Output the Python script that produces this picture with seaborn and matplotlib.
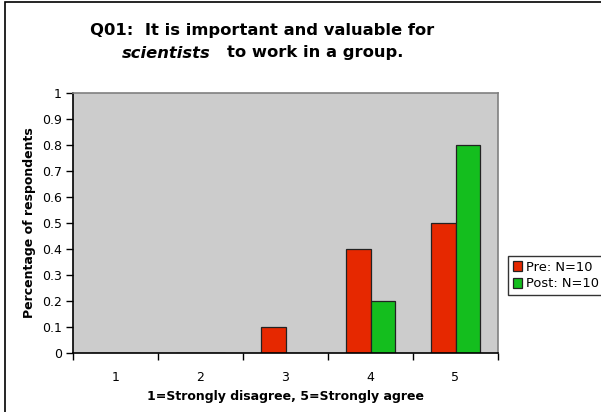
import matplotlib
matplotlib.use("Agg")
import matplotlib.pyplot as plt
import seaborn as sns
import pandas as pd
from matplotlib.patches import Rectangle

categories = ["1", "2", "3", "4", "5"]
pre_values = [0.0, 0.0, 0.1, 0.4, 0.5]
post_values = [0.0, 0.0, 0.0, 0.2, 0.8]
series_names = ["Pre: N=10", "Post: N=10"]
y_ticks = [0, 0.1, 0.2, 0.3, 0.4, 0.5, 0.6, 0.7, 0.8, 0.9, 1]
y_tick_labels = ["0", "0.1", "0.2", "0.3", "0.4", "0.5", "0.6", "0.7", "0.8", "0.9", "1"]

df = pd.DataFrame({
    "cat": categories * 2,
    "val": pre_values + post_values,
    "series": [series_names[0]] * 5 + [series_names[1]] * 5,
})

sns.set_style("white")
plt.rcParams["font.family"] = ["DejaVu Sans"]
plt.rcParams["text.color"] = "black"
plt.rcParams["axes.labelcolor"] = "black"
plt.rcParams["xtick.color"] = "black"
plt.rcParams["ytick.color"] = "black"

W, H = 601, 412
fig = plt.figure(figsize=(W / 100, H / 100), dpi=100)
ax = fig.add_axes([73 / W, 1 - 353 / H, (498 - 73) / W, (353 - 93) / H])
ax.set_facecolor("#CCCCCC")

sns.barplot(data=df, x="cat", y="val", hue="series", order=categories,
            hue_order=series_names, palette=["#E62800", "#14BE1E"],
            saturation=1, width=0.565, edgecolor="#222222", linewidth=0.9,
            ax=ax, legend=True, errorbar=None)

ax.set_xlim(-0.5, 4.5)
ax.set_ylim(0, 1)
ax.set_yticks(y_ticks)
ax.set_yticklabels(y_tick_labels, fontsize=9)
ax.set_xticks([i - 0.5 for i in range(6)])
ax.set_xticklabels([])
ax.set_xticks(range(5), minor=True)
ax.set_xticklabels(categories, minor=True, fontsize=9)
ax.tick_params(axis="x", which="major", direction="out", length=5, width=1, color="black", bottom=True)
ax.tick_params(axis="x", which="minor", length=0, pad=13)
ax.tick_params(axis="y", direction="out", length=5, width=1, color="black", left=True, pad=3)

for s in ["left", "bottom"]:
    ax.spines[s].set_color("black")
    ax.spines[s].set_linewidth(1.2)
for s in ["top", "right"]:
    ax.spines[s].set_color("#808080")
    ax.spines[s].set_linewidth(1.2)

ax.set_xlabel("1=Strongly disagree, 5=Strongly agree", fontsize=9, fontweight="bold", labelpad=4)
ax.set_ylabel("Percentage of respondents", fontsize=9, fontweight="bold", labelpad=4)

leg = ax.legend(loc="upper left", bbox_to_anchor=(508 / W, 1 - 256 / H),
                bbox_transform=fig.transFigure, fontsize=9.4, frameon=True,
                fancybox=False, handlelength=0.75, handleheight=0.75,
                handletextpad=0.3, borderpad=0.35, labelspacing=0.3,
                borderaxespad=0)
leg.get_frame().set_edgecolor("black")
leg.get_frame().set_linewidth(1.0)

# title
tfs = 11.8
cx = 0.5 * (90 + 435) / W
fig.text(cx, 1 - 30 / H, "Q01:  It is important and valuable for",
         ha="center", va="center", fontsize=tfs, fontweight="bold")
t1 = fig.text(0, 1 - 53 / H, "scientists", ha="left", va="center",
              fontsize=tfs, fontweight="bold", style="italic")
t2 = fig.text(0, 1 - 53 / H, "to work in a group.", ha="left", va="center",
              fontsize=tfs, fontweight="bold")
r = fig.canvas.get_renderer()
w1 = t1.get_window_extent(r).width
w2 = t2.get_window_extent(r).width
gap = 16
total = w1 + gap + w2
x0 = cx * W - total / 2
t1.set_x(x0 / W)
t2.set_x((x0 + w1 + gap) / W)

# figure border (right/bottom edges lie outside the picture)
fig.patches.append(Rectangle((5 / W, -5 / H), (W + 10) / W, (H + 3) / H,
                             transform=fig.transFigure, fill=False,
                             edgecolor="black", linewidth=1.2))

fig.savefig("out.png", dpi=100)
